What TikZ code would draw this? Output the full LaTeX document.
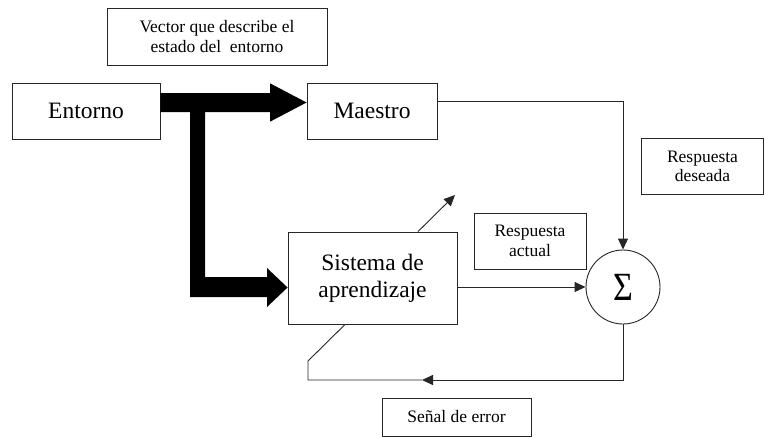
\documentclass[tikz,border=0pt]{standalone}
\usepackage{fontspec}
\usepackage{graphicx}
\setmainfont{Liberation Serif}
\usetikzlibrary{arrows.meta}
\begin{document}
\begin{tikzpicture}[x=1pt,y=-1pt,
  box/.style={draw=black!85, line width=0.9pt, inner sep=0pt, align=center},
  big/.style={font=\fontsize{23.5}{27}\selectfont},
  small/.style={font=\fontsize{17.5}{19.5}\selectfont},
  conn/.style={draw=black!85, line width=0.9pt},
  tip/.style={-{Triangle[length=11pt,width=10pt]}}]
\useasboundingbox (0,0) rectangle (765,437);
\node[box,small,minimum width=220pt,minimum height=57pt] (vec) at (217,36.5) {Vector que describe el\\estado del\ \ entorno};
\node[box,big,minimum width=148pt,minimum height=56pt] (ent) at (86,111) {Entorno};
\node[box,big,minimum width=130pt,minimum height=56pt] (mae) at (372,111) {Maestro};
\node[box,big,minimum width=169pt,minimum height=92pt] (sis) at (372.5,278) {Sistema de\\aprendizaje};
\node[box,small,minimum width=112pt,minimum height=56pt] (act) at (530,241) {Respuesta\\actual};
\node[box,small,minimum width=122pt,minimum height=56pt] (des) at (702.5,166.5) {Respuesta\\deseada};
\node[box,small,minimum width=149pt,minimum height=38pt] (err) at (456.5,417) {Señal de error};
\node[box,circle,minimum size=74pt] (sum) at (623,287) {\scalebox{0.85}[1]{\fontsize{40}{40}\selectfont Σ}};
% thick arrow
\fill[black] (ent.east |- 0,93) -- (270,93) -- (270,83.3) -- (mae.west |- 0,102.5) -- (270,121.7) -- (270,112)
  -- (205,112) -- (205,277) -- (267,277) -- (267,268) -- (sis.west |- 0,287.5) -- (267,307) -- (267,297)
  -- (190,297) -- (190,112) -- (ent.east |- 0,112) -- cycle;
% connectors
\draw[conn,tip] (mae.east |- 0,101.5) -| (sum.north);
\draw[conn,tip] (sis.east |- sum.west) -- (sum.west);
\coordinate (d1) at (455,195);
\draw[conn,tip] (sis.north -| 418,0) -- (d1);
\coordinate (fb) at (422,380);
\draw[conn,tip] (sum.south) |- (fb);
\draw[conn] (fb) -- (308,380) -- (308,361) -- (sis.south -| 345,0);
\end{tikzpicture}
\end{document}
